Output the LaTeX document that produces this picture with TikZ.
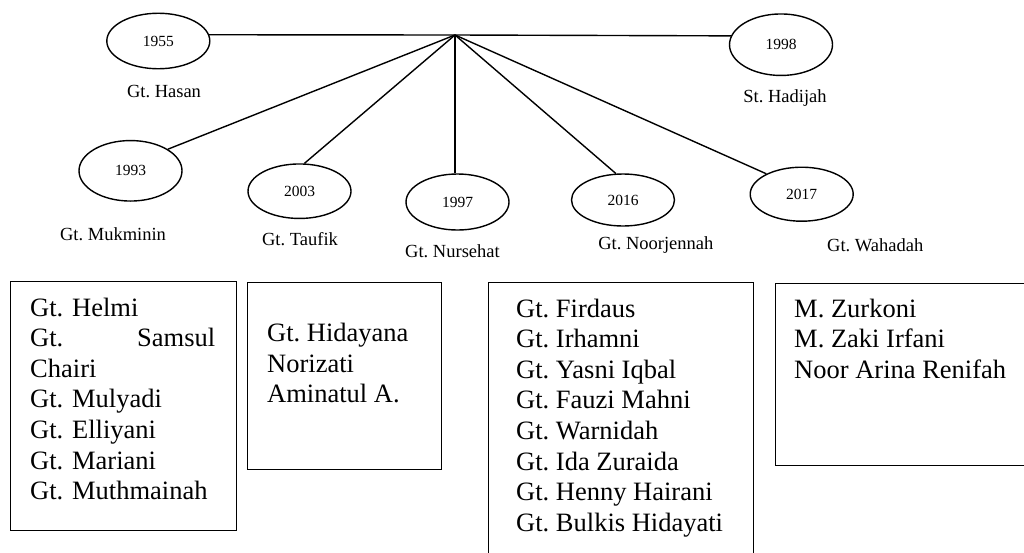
\documentclass[tikz,border=0pt]{standalone}
\usepackage{fontspec}
\setmainfont{Liberation Serif}
\usetikzlibrary{shapes.geometric}
\frenchspacing

\tikzset{
    birth/.style={draw, ellipse, line width=1.4pt, minimum width=103pt, inner sep=0pt, font=\fontsize{15.5}{18}\selectfont},
    person/.style={anchor=base, inner sep=0pt, font=\fontsize{18.5}{22}\selectfont},
    listbox/.style={draw, line width=1.3pt, anchor=north west, inner sep=0pt},
    namelist/.style={anchor=north west, inner sep=0pt, align=left, font=\fontsize{26.5}{30.6}\selectfont},
}

\begin{document}
\begin{tikzpicture}[x=1pt,y=-1pt]
    \useasboundingbox (0,0) rectangle (1024,552);
    \clip (0,0) rectangle (1024,552);

    % parents and children
    \foreach \yr/\x/\y/\h in {1955/158.3/41/55.5, 1998/781/44.7/61.5, 1993/130.5/170.8/60.5,
        2003/299.5/191.2/54.5, 1997/457.5/202/56, 2016/623/200/52, 2017/801.7/194.2/54}{
        \node[birth, minimum height=\h pt] (y\yr) at (\x,\y) {\yr};
    }
    \foreach \txt/\x/\y [count=\i] in {Gt. Hasan/164/97.5, St. Hadijah/785/102.5,
        Gt. Mukminin/113/240.5, Gt. Taufik/300/245.5, Gt. Nursehat/452.5/257.3,
        Gt. Noorjennah/655.8/249.5, Gt. Wahadah/875.2/251.5}{
        \node[person] (p\i) at (\x,\y) {\txt};
    }

    \coordinate (hub) at (455,35);
    \draw[line width=1.4pt] (y1955.7) -- (hub) -- (y1998.170);
    \draw[line width=1.4pt] (hub) -- (hub |- y1997.north);
    \foreach \yr/\ang in {1993/30, 2003/80, 2016/105, 2017/150}{
        \draw[line width=1.4pt] (hub) -- (y\yr.\ang);
    }

    % grandchildren
    \node[listbox, minimum width=226pt, minimum height=249pt] (box1993) at (9.5,280.5) {};
    \node[listbox, minimum width=194pt, minimum height=187pt] (box2003) at (246.5,282) {};
    \node[listbox, minimum width=265pt, minimum height=300pt] (box2016) at (488,281.5) {};
    \node[listbox, minimum width=280pt, minimum height=182pt] (box2017) at (775,283) {};

    \node[namelist, text width=185pt] (list1993) at (30,297.6)
        {Gt. Helmi\\ Gt.\hfill Samsul\\ Chairi\\ Gt. Mulyadi\\ Gt. Elliyani\\ Gt. Mariani\\ Gt. Muthmainah};
    \node[namelist] (list2003) at (267,322.9) {Gt. Hidayana\\ Norizati\\ Aminatul A.};
    \node[namelist] (list2016) at (516,298.5)
        {Gt. Firdaus\\ Gt. Irhamni\\ Gt. Yasni Iqbal\\ Gt. Fauzi Mahni\\ Gt. Warnidah\\
         Gt. Ida Zuraida\\ Gt. Henny Hairani\\ Gt. Bulkis Hidayati};
    \node[namelist] (list2017) at (794,298.6) {M. Zurkoni\\ M. Zaki Irfani\\ Noor Arina Renifah};

\end{tikzpicture}
\end{document}
